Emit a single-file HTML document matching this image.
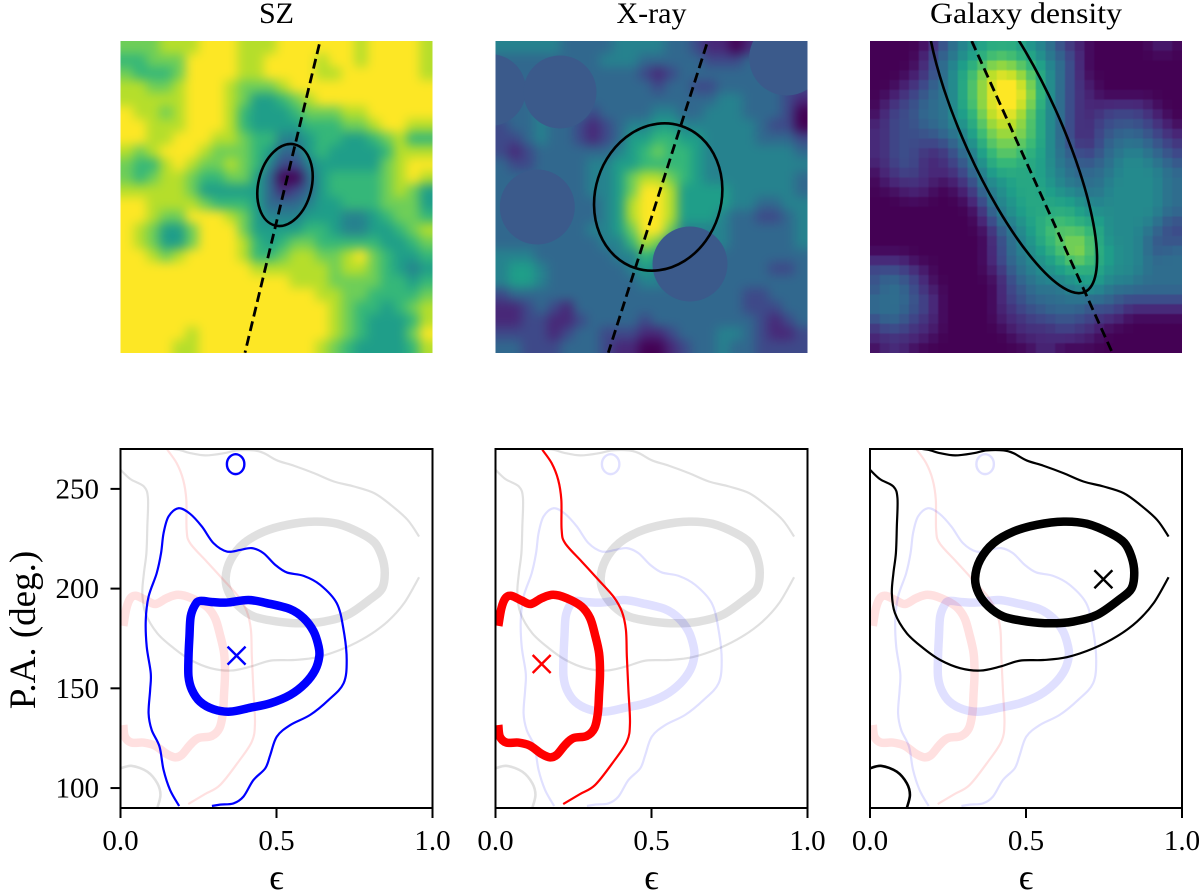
<!DOCTYPE html>
<html lang="en">
<head>
<meta charset="utf-8">
<title>Cluster maps and ellipticity vs position angle contours</title>
<style>
  html, body { margin: 0; padding: 0; background: #fff; }
  svg { display: block; }
  text { font-family: "Liberation Serif", "DejaVu Serif", serif; fill: #000; }
</style>
</head>
<body>
<svg id="figure" xmlns="http://www.w3.org/2000/svg" width="1200" height="895" viewBox="0 0 1200 895">
  <defs>
    <filter id="blur-smooth" filterUnits="userSpaceOnUse" x="60" y="-20" width="1200" height="440" color-interpolation-filters="sRGB"><feGaussianBlur stdDeviation="5.2"/></filter>
    <filter id="blur-light" filterUnits="userSpaceOnUse" x="60" y="-20" width="1200" height="440" color-interpolation-filters="sRGB"><feGaussianBlur stdDeviation="0.5"/></filter>
    <clipPath id="clip-img-0"><rect x="120.5" y="41" width="312" height="312"/></clipPath>
    <clipPath id="clip-img-1"><rect x="495.5" y="41" width="312" height="312"/></clipPath>
    <clipPath id="clip-img-2"><rect x="870" y="41" width="312" height="312"/></clipPath>
    <clipPath id="clip-ax-0"><rect x="120.5" y="449" width="312" height="359"/></clipPath>
    <clipPath id="clip-ax-1"><rect x="495.5" y="449" width="312" height="359"/></clipPath>
    <clipPath id="clip-ax-2"><rect x="870" y="449" width="312" height="359"/></clipPath>
  </defs>

  <text x="276.5" y="23" font-size="30" text-anchor="middle">SZ</text>
  <text x="651.5" y="23" font-size="30" text-anchor="middle">X-ray</text>
  <text x="1026" y="23" font-size="30" text-anchor="middle" textLength="192" lengthAdjust="spacingAndGlyphs">Galaxy density</text>

  <g clip-path="url(#clip-img-0)">
    <g id="heat-0" filter="url(#blur-smooth)"></g>
    <ellipse cx="285" cy="185" rx="26.6" ry="41.7" transform="rotate(13.6 285 185)" fill="none" stroke="#000" stroke-width="2.6"/>
    <line x1="319.3" y1="44.3" x2="245" y2="352.7" stroke="#000" stroke-width="2.8" stroke-dasharray="10 5"/>
  </g>
  <g clip-path="url(#clip-img-1)">
    <g id="heat-1" filter="url(#blur-smooth)"></g>
    <g fill="#3b5a8b">
      <circle cx="490" cy="90" r="36"/>
      <circle cx="560" cy="92" r="36.5"/>
      <circle cx="537.3" cy="207" r="37.5"/>
      <circle cx="690" cy="264" r="37.5"/>
      <circle cx="786.7" cy="58" r="37.5"/>
    </g>
    <ellipse cx="658.2" cy="197" rx="63" ry="74.7" transform="rotate(17.7 658.2 197)" fill="none" stroke="#000" stroke-width="2.6"/>
    <line x1="706.7" y1="44.3" x2="608.3" y2="352.7" stroke="#000" stroke-width="2.8" stroke-dasharray="10 5"/>
  </g>
  <g clip-path="url(#clip-img-2)">
    <g id="heat-2" filter="url(#blur-light)"></g>
    <ellipse cx="1011.7" cy="130" rx="48.3" ry="177.7" transform="rotate(-24.3 1011.7 130)" fill="none" stroke="#000" stroke-width="2.6"/>
    <line x1="971.7" y1="41" x2="1112.3" y2="352.7" stroke="#000" stroke-width="2.8" stroke-dasharray="10 5"/>
  </g>

  <g id="axes-0"></g>
  <g id="axes-1"></g>
  <g id="axes-2"></g>

  <text transform="translate(35 630) rotate(-90)" font-size="37" text-anchor="middle">P.A. (deg.)</text>
</svg>

<script>
// ---- axis data ----
const xTickValues = [0, 0.5, 1];
const xTickLabels = ['0.0', '0.5', '1.0'];
const yTickValues = [100, 150, 200, 250];
const yTickLabels = ['100', '150', '200', '250'];

// ---- best-fit markers [epsilon, P.A.] ----
const szBest = [0.372, 166.4];
const xrayBest = [0.148, 162.2];
const galaxyBest = [0.748, 204.7];

// ---- contours, [epsilon, P.A.] ----
const szOuter = [[.188,91],[.159,99],[.138,109.1],[.125,120.8],[.100,129.1],[.090,137.5],[.095,149.2],[.097,157.6],[.084,170.9],[.081,184.3],[.090,196],[.116,207.7],[.130,217.8],[.138,227.8],[.154,236.2],[.186,240.3],[.223,237.5],[.261,231.1],[.298,222.8],[.341,218.6],[.384,219.4],[.421,220.3],[.458,217.8],[.496,211.9],[.533,208.1],[.587,206.4],[.640,201.9],[.693,192.7],[.715,179.3],[.725,164.2],[.715,152.5],[.667,144.2],[.608,136.7],[.544,131.6],[.501,125.8],[.480,116.6],[.464,109.9],[.426,104],[.394,95.7],[.362,92.3],[.319,91.7],[.293,91]];
const szIsland = [[.397,262.4],[.389,265.9],[.369,267.4],[.349,265.9],[.341,262.4],[.349,258.9],[.369,257.4],[.389,258.9]];
const szInner = [[.255,193.8],[.298,193.2],[.341,193],[.410,194.3],[.469,192.7],[.544,189.7],[.587,185.2],[.619,178.5],[.635,170.9],[.637,165.9],[.624,159.2],[.592,152.5],[.544,146.7],[.480,142.5],[.416,140.3],[.351,138.3],[.298,139.5],[.255,143.3],[.229,149.2],[.218,155.9],[.218,165.9],[.221,176],[.225,186],[.239,191.8]];
const xrayOuter = [[.150,269.6],[.180,262.9],[.201,254.5],[.211,244.5],[.212,229.5],[.223,222.8],[.276,213.6],[.330,204.4],[.378,196],[.405,188.5],[.418,179.3],[.421,165.9],[.426,149.2],[.431,132.5],[.421,123.3],[.378,113.2],[.319,101.5],[.271,97],[.217,92]];
const xrayInner = [[.009,181.3],[.019,190.2],[.032,195.2],[.051,196.4],[.084,194],[.113,192.3],[.148,195.2],[.185,196.9],[.228,195.2],[.276,191],[.303,185.2],[.319,176.8],[.332,167.6],[.335,157.6],[.332,147.5],[.328,137.5],[.317,130],[.292,126.1],[.249,125],[.223,121.6],[.196,116.6],[.175,115.4],[.148,117.1],[.110,121.3],[.073,122.8],[.035,122.8],[.014,125.8],[.009,131.6]];
const galaxyOuterTop = [[.957,226.1],[.920,234.5],[.866,242],[.813,247.9],[.749,251.2],[.684,253.7],[.620,257.9],[.556,261.6],[.503,264.2],[.460,267.9],[.428,269.3],[.374,269.3],[.332,267.9],[.273,266.8],[.225,267.9],[.187,269.6],[.150,270.3]];
const galaxyOuterBottom = [[0,259.6],[.032,254.9],[.075,251.2],[.088,245.4],[.086,231.1],[.083,217.8],[.075,207.7],[.070,197.7],[.080,187.7],[.118,177.6],[.171,170.1],[.225,164.2],[.289,160.1],[.353,158.9],[.417,160.9],[.481,163.9],[.556,164.2],[.631,165.6],[.717,170.1],[.791,176],[.856,183.5],[.909,192.7],[.957,205.7]];
const galaxyCorner = [[0,109.9],[.037,111.1],[.086,108.2],[.118,102.4],[.128,96.5],[.118,90]];
const galaxyInner = [[.337,205.2],[.353,214.4],[.396,222.8],[.460,228.6],[.535,232],[.620,233.6],[.695,232.5],[.770,227.8],[.815,223],[.838,216],[.847,208],[.838,200],[.797,194.3],[.727,186.8],[.652,183.5],[.578,182.6],[.503,183.5],[.428,186],[.380,191],[.348,197.7]];

// ---- heatmap values (0 = bottom of colormap, 9 = top) ----
const szMap = [
[7,7,7,8,8,8,9,9,9,8,8,8,9,9,9,9,9,9,8,9,9,9,9,8],
[6,6,7,7,7,9,9,9,9,8,8,9,9,9,9,8,9,9,8,9,9,9,9,8],
[7,6,6,6,7,9,9,9,9,8,8,9,9,9,9,8,8,9,9,9,9,9,9,8],
[8,8,7,7,8,9,9,9,8,7,7,7,8,9,9,9,9,9,9,9,9,9,9,9],
[8,8,8,8,8,9,9,9,8,7,5,5,6,7,8,9,9,9,9,9,9,9,9,9],
[9,8,8,7,8,9,9,9,8,6,5,5,5,6,7,7,7,8,8,9,9,9,9,9],
[9,9,8,8,8,9,9,9,8,6,5,5,5,5,6,6,6,7,7,8,9,9,8,8],
[9,9,8,8,9,9,9,8,8,7,6,6,4,4,5,6,6,5,5,6,7,8,6,6],
[8,7,8,9,9,9,8,7,7,7,6,5,3,3,5,6,5,5,5,5,6,8,8,8],
[7,6,6,8,9,8,7,7,8,7,6,4,2,2,4,5,5,5,5,5,7,8,9,9],
[7,6,7,8,8,7,6,6,7,7,5,3,0,0,3,5,6,6,6,6,7,8,9,8],
[8,8,8,8,8,7,5,5,5,5,5,3,1,2,3,5,6,6,6,6,7,8,7,5],
[9,9,8,8,8,8,7,6,6,6,5,3,3,3,4,5,5,6,6,6,7,7,7,5],
[9,9,8,7,7,9,9,9,8,7,5,4,4,4,5,5,5,4,4,5,6,7,7,6],
[9,8,7,5,5,7,9,9,9,7,5,5,5,5,6,6,5,4,4,5,5,6,7,8],
[9,8,7,5,5,7,9,9,9,8,6,5,6,7,7,6,6,6,6,6,5,5,6,7],
[9,9,8,7,8,9,9,9,9,8,6,6,7,8,8,7,7,8,9,7,6,5,5,6],
[9,9,9,9,9,9,9,9,9,9,8,8,8,8,8,8,7,8,8,7,6,5,4,5],
[9,9,9,9,9,9,9,9,9,9,9,9,9,8,8,8,7,7,7,7,6,6,5,6],
[9,9,9,9,9,9,9,9,9,9,9,9,9,9,9,8,8,7,7,6,6,6,6,7],
[9,9,9,9,9,9,9,9,9,9,9,9,9,9,9,9,8,7,6,6,5,6,7,8],
[9,9,9,9,9,9,9,9,9,9,9,9,9,9,9,9,8,7,6,5,5,5,6,8],
[9,9,9,9,9,8,9,9,9,9,9,9,9,9,9,9,8,7,6,5,5,5,7,9],
[9,9,9,9,8,8,9,9,9,9,9,9,9,9,9,8,7,6,5,5,5,5,6,8]
];
const xrayMap = [
[4,4,4,4,4,3,3,3,3,4,4,4,4,3,3,2,1,1,0,1,2,3,3,3],
[3,3,3,3,3,3,3,3,4,4,4,3,3,3,3,3,2,2,2,3,3,3,3,3],
[3,3,3,3,3,3,3,3,3,3,3,2,1,2,3,3,3,3,3,3,3,3,3,3],
[3,3,3,3,3,3,3,3,3,3,3,3,2,3,3,2,2,3,3,3,3,3,2,2],
[3,3,3,4,4,3,3,3,3,3,3,3,3,3,3,3,3,4,4,3,3,3,2,1],
[3,3,3,4,4,3,3,2,3,3,3,3,4,4,3,3,4,4,4,3,3,3,2,0],
[2,3,3,4,3,3,2,1,2,3,4,4,5,5,4,4,4,4,4,4,3,2,2,0],
[2,2,3,4,3,3,2,1,2,3,5,5,6,6,5,5,4,4,4,4,3,3,3,2],
[2,1,2,3,3,3,3,3,3,4,5,6,7,6,6,5,4,4,4,4,4,4,4,3],
[3,2,2,3,3,3,3,4,4,5,5,6,6,6,6,5,4,4,4,4,4,4,4,4],
[3,3,3,3,3,3,3,4,4,5,7,8,8,7,6,5,4,4,4,4,4,4,4,3],
[3,3,3,3,3,3,3,4,4,5,7,9,9,8,5,5,5,5,4,4,4,4,4,3],
[3,3,3,3,3,3,3,3,4,5,8,9,9,8,5,5,5,5,4,4,3,3,4,4],
[3,3,3,3,3,3,3,3,4,5,8,9,9,8,5,5,5,4,3,3,2,2,3,4],
[3,3,3,3,3,3,3,4,4,5,7,9,9,7,4,4,4,4,3,3,3,3,3,4],
[3,3,3,3,3,3,3,3,4,4,6,8,7,4,4,4,4,4,3,3,3,3,3,4],
[4,4,4,3,3,3,3,3,3,4,4,6,5,4,4,4,4,3,3,3,3,3,3,3],
[4,5,5,4,3,3,3,3,3,3,4,5,4,4,4,3,3,3,3,3,3,2,2,3],
[4,5,5,4,3,3,3,3,3,3,3,4,4,3,3,3,3,3,3,3,3,3,3,3],
[2,3,3,3,3,3,3,3,3,3,3,3,3,3,3,3,3,3,3,2,2,3,3,3],
[1,1,2,3,2,1,3,3,3,3,3,3,3,3,3,3,3,3,3,2,2,2,3,3],
[1,1,2,2,1,1,2,3,3,3,3,2,3,3,3,3,3,3,3,3,2,1,2,3],
[2,2,2,2,1,2,3,3,2,2,2,1,1,2,3,3,3,4,4,3,2,1,1,2],
[3,3,2,2,2,3,3,3,2,1,1,0,0,1,2,3,3,4,3,3,2,2,2,2]
];
const galaxyMap = [
[0,0,0,0,0,0,1,2,3,4,4,5,5,5,5,5,4,4,3,2,1,1,0,0,0,0,0,0,0,1,1,0],
[0,0,0,0,0,1,2,3,3,4,5,5,6,6,6,5,5,4,3,3,2,1,0,0,0,0,0,0,0,0,0,0],
[0,0,0,0,0,1,2,3,4,5,5,6,7,7,7,6,6,5,4,3,2,1,0,0,0,0,0,0,0,0,0,0],
[0,0,0,0,1,1,2,3,4,5,6,7,8,8,8,7,6,5,4,3,2,1,0,0,0,0,0,0,0,0,0,0],
[0,0,0,1,1,2,3,3,4,5,6,7,8,9,9,8,7,5,4,3,2,1,1,0,0,0,0,0,0,0,0,0],
[0,0,1,1,2,2,3,3,4,5,6,7,8,9,9,8,7,6,4,3,2,1,1,0,0,0,0,0,0,0,0,0],
[0,1,1,2,2,3,3,3,4,5,6,7,8,9,9,8,7,5,4,3,2,1,1,1,1,1,1,1,1,0,0,0],
[0,1,2,2,2,3,3,3,4,5,5,7,8,8,8,7,6,5,4,3,2,1,1,1,2,2,2,2,1,1,0,0],
[1,1,2,2,2,3,3,3,4,4,5,6,7,8,8,7,6,5,4,3,2,1,1,2,2,2,2,2,2,1,1,0],
[1,1,2,2,2,2,2,3,3,4,5,6,7,7,7,7,6,5,4,3,2,1,1,2,2,3,3,3,2,2,1,1],
[1,1,2,2,2,2,2,2,3,3,4,5,6,7,7,6,6,5,4,3,2,1,1,2,3,3,3,3,3,2,2,1],
[1,1,2,2,2,1,1,1,2,3,4,5,6,6,6,6,5,5,4,3,3,2,2,2,3,3,4,4,3,3,2,2],
[1,1,2,2,2,1,1,1,2,2,3,4,5,6,6,5,5,5,4,3,3,2,2,3,3,4,4,4,4,3,3,2],
[0,1,1,2,2,1,1,1,1,2,3,4,5,5,5,5,5,5,4,4,3,3,3,3,3,4,4,4,4,4,3,3],
[0,1,1,1,1,1,1,0,1,1,2,3,4,4,5,5,5,5,4,4,3,3,3,3,4,4,4,4,4,4,3,3],
[0,0,0,1,1,1,0,0,0,1,1,3,4,4,5,5,5,5,5,4,4,4,3,3,4,4,4,4,4,4,3,3],
[0,0,0,0,0,0,0,0,0,0,1,2,3,4,4,5,5,5,5,5,5,4,4,4,4,4,4,4,4,4,3,3],
[0,0,0,0,0,0,0,0,0,0,0,1,3,4,4,5,5,5,5,5,5,5,4,4,4,4,4,4,4,4,3,3],
[0,0,0,0,0,0,0,0,0,0,0,1,2,3,4,4,5,5,6,6,6,5,5,5,4,4,4,4,4,3,2,2],
[0,0,0,0,0,0,0,0,0,0,0,0,1,3,3,4,5,5,6,6,6,6,6,5,4,4,4,4,3,3,2,2],
[0,0,0,0,0,0,0,0,0,0,0,0,1,2,3,4,4,5,6,6,7,7,6,5,4,4,4,4,3,2,2,2],
[0,0,0,0,0,0,0,0,0,0,0,0,1,2,3,4,4,5,5,6,7,7,6,5,5,4,4,4,3,2,3,3],
[1,1,1,1,0,0,0,0,0,0,0,0,1,2,3,3,4,4,5,5,6,7,6,5,5,4,4,4,3,3,3,3],
[2,2,2,2,1,1,0,0,0,0,0,0,1,1,3,3,4,4,4,5,5,5,5,5,4,4,4,4,3,3,3,3],
[2,3,3,2,2,1,0,0,0,0,0,0,0,1,2,3,3,4,4,4,4,5,5,5,4,4,4,3,3,3,3,3],
[2,3,3,3,2,1,1,0,0,0,0,0,0,1,2,2,3,3,3,3,4,4,4,4,3,3,3,3,3,3,3,3],
[3,3,3,3,2,2,1,0,0,0,0,0,0,1,2,2,3,3,3,3,3,3,3,3,3,2,2,2,2,2,2,2],
[3,3,3,3,2,2,1,0,0,0,0,0,0,1,1,2,2,2,3,3,3,3,2,2,2,2,1,1,1,1,1,1],
[2,3,3,2,2,1,1,0,0,0,0,0,0,1,1,1,2,2,2,2,2,2,2,1,1,1,0,0,0,0,0,0],
[1,2,2,2,1,1,1,0,0,0,0,0,0,0,1,1,1,1,1,2,2,1,1,1,0,0,0,0,0,0,0,0],
[1,1,1,1,1,1,0,0,0,0,0,0,0,0,0,1,1,1,1,1,1,1,1,0,0,0,0,0,0,0,0,0],
[0,1,1,1,0,0,0,0,0,0,0,0,0,0,0,0,0,1,1,0,0,0,0,0,0,0,0,0,0,0,0,0]
];

// ---- helpers ----
const SVG_NS = 'http://www.w3.org/2000/svg';
const VIRIDIS = ['#440154','#482878','#3e4989','#31688e','#26828e','#1f9e89','#35b779','#6ece58','#b5de2b','#fde725'];
const AX_LEFT = [120.5, 495.5, 870];
const AX_SIZE = 312, AX_TOP = 449, AX_BOTTOM = 808;
const IMG_TOP = 41, IMG_SIZE = 312;

function xScale(panel, eps) { return AX_LEFT[panel] + eps * AX_SIZE; }
function yScale(pa) { return AX_BOTTOM - (pa - 90) * (AX_BOTTOM - AX_TOP) / 180; }

function hexToRgb(h) { return [1, 3, 5].map(i => parseInt(h.substr(i, 2), 16)); }
function colorFor(v) {
  const t = Math.max(0, Math.min(9, v));
  const i = Math.min(8, Math.floor(t));
  const f = t - i;
  const a = hexToRgb(VIRIDIS[i]), b = hexToRgb(VIRIDIS[i + 1]);
  return 'rgb(' + a.map((c, k) => Math.round(c + (b[k] - c) * f)).join(',') + ')';
}
function make(tag, attrs, parent) {
  const el = document.createElementNS(SVG_NS, tag);
  Object.keys(attrs).forEach(k => el.setAttribute(k, attrs[k]));
  parent.appendChild(el);
  return el;
}
function smoothPath(px, closed) {
  const n = px.length;
  const at = i => closed ? px[(i + n) % n] : px[Math.max(0, Math.min(n - 1, i))];
  let d = 'M' + px[0][0].toFixed(2) + ' ' + px[0][1].toFixed(2);
  const segs = closed ? n : n - 1;
  for (let i = 0; i < segs; i++) {
    const p0 = at(i - 1), p1 = at(i), p2 = at(i + 1), p3 = at(i + 2);
    const c1 = [p1[0] + (p2[0] - p0[0]) / 6, p1[1] + (p2[1] - p0[1]) / 6];
    const c2 = [p2[0] - (p3[0] - p1[0]) / 6, p2[1] - (p3[1] - p1[1]) / 6];
    d += 'C' + c1[0].toFixed(2) + ' ' + c1[1].toFixed(2) + ' ' + c2[0].toFixed(2) + ' ' + c2[1].toFixed(2) + ' ' + p2[0].toFixed(2) + ' ' + p2[1].toFixed(2);
  }
  return d + (closed ? 'Z' : '');
}
// Soften integer value steps on the coarse-pixel map so the colour ramp stays continuous.
function softened(values, gain) {
  const rows = values.length, cols = values[0].length;
  const w = [1, 2, 1];
  return values.map((row, r) => row.map((_, c) => {
    let sum = 0, tot = 0;
    for (let dr = -1; dr <= 1; dr++) {
      for (let dc = -1; dc <= 1; dc++) {
        const rr = Math.max(0, Math.min(rows - 1, r + dr));
        const cc = Math.max(0, Math.min(cols - 1, c + dc));
        const k = w[dr + 1] * w[dc + 1];
        sum += values[rr][cc] * k;
        tot += k;
      }
    }
    return sum / tot * gain;
  }));
}

// ---- heatmaps ----
function drawHeat(index, values, left, pad) {
  const g = document.getElementById('heat-' + index);
  const rows = values.length, cols = values[0].length;
  const cw = IMG_SIZE / cols, ch = IMG_SIZE / rows;
  values.forEach((row, r) => {
    row.forEach((v, c) => {
      const x0 = left + c * cw - (c === 0 ? pad : 0);
      const y0 = IMG_TOP + r * ch - (r === 0 ? pad : 0);
      const x1 = left + (c + 1) * cw + (c === cols - 1 ? pad : 0.4);
      const y1 = IMG_TOP + (r + 1) * ch + (r === rows - 1 ? pad : 0.4);
      const cell = make('rect', { x: x0.toFixed(2), y: y0.toFixed(2), width: (x1 - x0).toFixed(2), height: (y1 - y0).toFixed(2), fill: colorFor(v) }, g);
      
      
    });
  });
}
drawHeat(0, szMap, AX_LEFT[0], 24);
drawHeat(1, xrayMap, AX_LEFT[1], 24);
drawHeat(2, softened(galaxyMap, 1.07), AX_LEFT[2], 6);

// ---- contour panels ----
const seriesDefs = [
  { color: '#0000ff', best: szBest, lines: [[szOuter, false, 2.2], [szIsland, true, 2.4], [szInner, true, 8.5]] },
  { color: '#ff0000', best: xrayBest, lines: [[xrayOuter, false, 2.2], [xrayInner, false, 8.5]] },
  { color: '#000000', best: galaxyBest, lines: [[galaxyOuterTop, false, 2.2], [galaxyOuterBottom, false, 2.2], [galaxyCorner, false, 2.6], [galaxyInner, true, 8.5]] }
];
const drawOrder = [[2, 1, 0], [2, 0, 1], [1, 0, 2]];

function drawPanel(panel) {
  const root = document.getElementById('axes-' + panel);
  const plot = make('g', { 'clip-path': 'url(#clip-ax-' + panel + ')' }, root);
  
  

  drawOrder[panel].forEach(s => {
    const def = seriesDefs[s];
    const primary = s === panel;
    def.lines.forEach(line => {
      const px = line[0].map(p => [xScale(panel, p[0]), yScale(p[1])]);
      const contour = make('path', {
        d: smoothPath(px, line[1]), fill: 'none', stroke: def.color,
        'stroke-width': line[2], 'stroke-linejoin': 'round',
        'stroke-opacity': primary ? 1 : 0.12
      }, plot);
      
      
    });
  });

  const def = seriesDefs[panel];
  const mx = xScale(panel, def.best[0]), my = yScale(def.best[1]);
  const marker = make('path', {
    d: 'M' + (mx - 9) + ' ' + (my - 9) + 'L' + (mx + 9) + ' ' + (my + 9) + 'M' + (mx - 9) + ' ' + (my + 9) + 'L' + (mx + 9) + ' ' + (my - 9),
    fill: 'none', stroke: def.color, 'stroke-width': 2.4
  }, root);
  
  

  const frame = make('rect', {
    x: AX_LEFT[panel], y: AX_TOP, width: AX_SIZE, height: AX_BOTTOM - AX_TOP,
    fill: 'none', stroke: '#000', 'stroke-width': 2
  }, root);
  
  

  xTickValues.forEach((v, i) => {
    const x = xScale(panel, v);
    const tick = make('line', { x1: x, y1: AX_BOTTOM, x2: x, y2: AX_BOTTOM + 10, stroke: '#000', 'stroke-width': 2 }, root);
    
    
    const label = make('text', { x: x, y: 850, 'font-size': 29, 'text-anchor': 'middle' }, root);
    label.textContent = xTickLabels[i];
    
    
  });

  if (panel === 0) {
    yTickValues.forEach((v, i) => {
      const y = yScale(v);
      const tick = make('line', { x1: AX_LEFT[0], y1: y, x2: AX_LEFT[0] - 10, y2: y, stroke: '#000', 'stroke-width': 2 }, root);
      
      
      const label = make('text', { x: 99, y: y + 9.5, 'font-size': 29, 'text-anchor': 'end' }, root);
      label.textContent = yTickLabels[i];
      
      
    });
  }

  const xTitle = make('text', { x: AX_LEFT[panel] + AX_SIZE / 2, y: 889, 'font-size': 36, 'text-anchor': 'middle' }, root);
  xTitle.textContent = 'ϵ';
  
  
}
[0, 1, 2].forEach(drawPanel);
</script>
</body>
</html>
